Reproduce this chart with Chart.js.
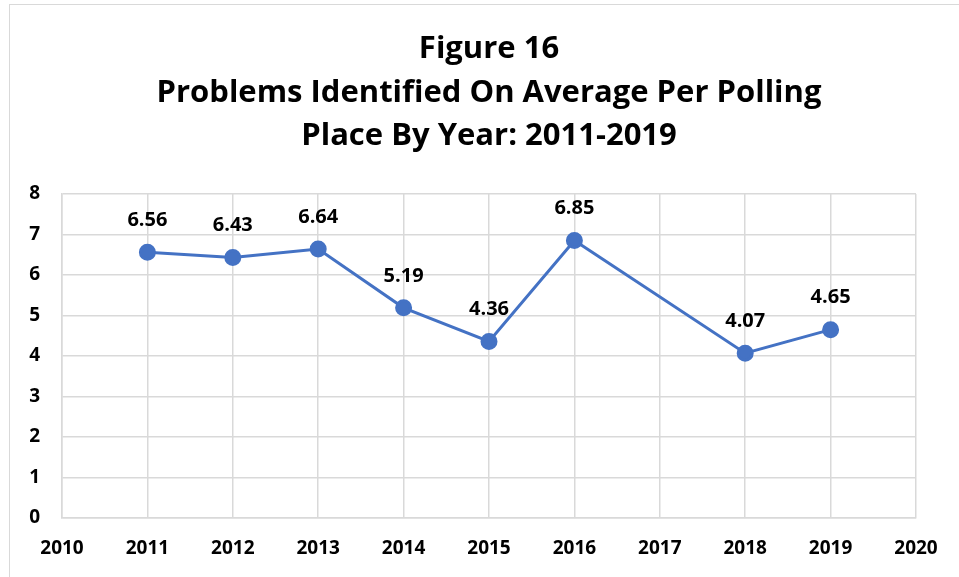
<!DOCTYPE html>
<html>
<head>
<meta charset="utf-8">
<script src="https://cdn.jsdelivr.net/npm/chart.js@4"></script>
<style>
    body { margin: 0; background: #ffffff; overflow: hidden; }
    #frame {
        position: absolute; left: 9px; top: 4px;
        width: 1000px; height: 620px;
        border: 1px solid #d9d9d9;
    }
    #chart-box { position: absolute; left: 0; top: 0; width: 959px; height: 577px; }
</style>
</head>
<body>
<div id="frame"></div>
<div id="chart-box"><canvas id="chart"></canvas></div>
<script>
const years = [2011, 2012, 2013, 2014, 2015, 2016, 2018, 2019];
const averages = [6.56, 6.43, 6.64, 5.19, 4.36, 6.85, 4.07, 4.65];
const titleLines = ['Figure 16', 'Problems Identified On Average Per Polling', 'Place By Year: 2011-2019'];

const FONT = '"Open Sans", Lato, sans-serif';
const BLUE = '#4472c4';
const GRID = '#d9d9d9';

// title centred over the plot area, like the original
const plotTitle = {
    id: 'plotTitle',
    afterDraw(chart) {
        let ctx = chart.ctx;
        let area = chart.chartArea;
        let cx = (area.left + area.right) / 2;
        let baselines = [58, 102, 145];
        ctx.save();
        ctx.font = 'bold 31px ' + FONT;
        ctx.fillStyle = '#000000';
        ctx.textAlign = 'center';
        ctx.textBaseline = 'alphabetic';
        for (let i = 0; i < titleLines.length; i++) {
            ctx.fillText(titleLines[i], cx, baselines[i]);
        }
        ctx.restore();
    }
};

// draws the value above each point
const pointLabels = {
    id: 'pointLabels',
    afterDatasetsDraw(chart) {
        let ctx = chart.ctx;
        let meta = chart.getDatasetMeta(0);
        ctx.save();
        ctx.font = 'bold 20px ' + FONT;
        ctx.fillStyle = '#000000';
        ctx.textAlign = 'center';
        ctx.textBaseline = 'middle';
        for (let i = 0; i < meta.data.length; i++) {
            let pt = meta.data[i];
            ctx.fillText(averages[i].toFixed(2), pt.x, pt.y - 32);
        }
        ctx.restore();
    }
};

let points = [];
for (let i = 0; i < years.length; i++) {
    points.push({ x: years[i], y: averages[i] });
}

const config = {
    type: 'line',
    data: {
        datasets: [{
            data: points,
            borderColor: BLUE,
            backgroundColor: BLUE,
            borderWidth: 3,
            pointRadius: 7,
            pointBackgroundColor: BLUE,
            pointBorderColor: BLUE,
            tension: 0
        }]
    },
    options: {
        responsive: true,
        maintainAspectRatio: false,
        animation: false,
        layout: { padding: { left: 0, right: 43, top: 194, bottom: 0 } },
        plugins: {
            legend: { display: false },
            tooltip: { enabled: false },
            title: { display: false }
        },
        scales: {
            x: {
                type: 'linear',
                min: 2010,
                max: 2020,
                grid: { color: GRID, lineWidth: 1.5, drawTicks: false },
                border: { color: GRID, width: 1.5 },
                ticks: {
                    stepSize: 1,
                    padding: 19,
                    color: '#000000',
                    font: { family: FONT, size: 19, weight: 'bold' },
                    callback: v => String(v)
                },
                afterFit: s => { s.height = 59; }
            },
            y: {
                min: 0,
                max: 8,
                grid: { color: GRID, lineWidth: 1.5, drawTicks: false },
                border: { color: GRID, width: 1.5 },
                ticks: {
                    stepSize: 1,
                    padding: 22,
                    color: '#000000',
                    font: { family: FONT, size: 19, weight: 'bold' }
                },
                afterFit: s => { s.width = 62; }
            }
        }
    },
    plugins: [pointLabels, plotTitle]
};

new Chart(document.getElementById('chart'), config);
</script>
</body>
</html>
